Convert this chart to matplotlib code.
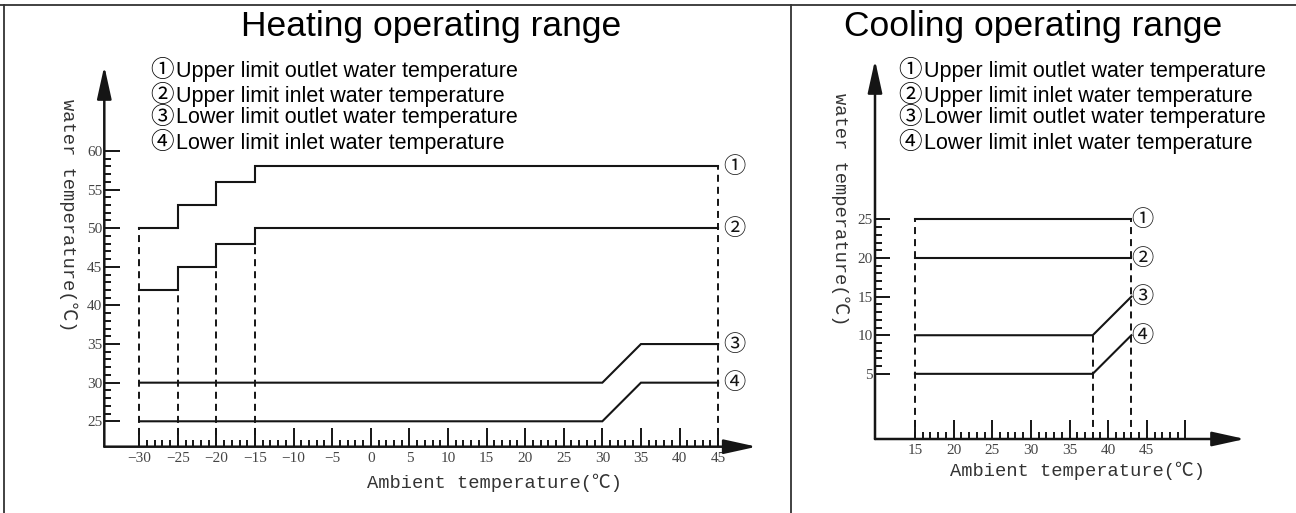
import matplotlib.pyplot as plt
from matplotlib.lines import Line2D

W, H = 1296, 513

# heating operating range
heat_step_x = [-30, -25, -20, -15, 45]
heat_upper_outlet = [50, 53, 56, 58, 58]
heat_upper_inlet = [42, 45, 48, 50, 50]
heat_lower_x = [-30, 30, 35, 45]
heat_lower_outlet = [30, 30, 35, 35]
heat_lower_inlet = [25, 25, 30, 30]
heat_guide_x = [-30, -25, -20, -15, 45]
heat_guide_top = [50, 42, 45, 48, 58]
heat_xticks = list(range(-30, 50, 5))
heat_yticks = list(range(25, 65, 5))

# cooling operating range
cool_upper_x = [15, 43]
cool_upper_outlet = [25, 25]
cool_upper_inlet = [20, 20]
cool_lower_x = [15, 38, 43]
cool_lower_outlet = [10, 10, 15]
cool_lower_inlet = [5, 5, 10]
cool_guide_x = [15, 38, 43]
cool_guide_top = [25, 10, 25]
cool_xticks = list(range(15, 55, 5))
cool_xlabels = ['15', '20', '25', '30', '35', '40', '45', '']
cool_yticks = list(range(5, 30, 5))

legend_marks = ['①', '②', '③', '④']
legend_texts = ['Upper limit outlet water temperature',
                'Upper limit inlet water temperature',
                'Lower limit outlet water temperature',
                'Lower limit inlet water temperature']

INK = '#151515'
SANS = ['Liberation Sans', 'Noto Sans CJK SC', 'DejaVu Sans']
MONO = ['Liberation Mono', 'Noto Sans CJK SC', 'DejaVu Sans']
CJK = ['Noto Sans CJK SC', 'DejaVu Sans']


def fx(x):
    return x / W


def fy(y):
    return 1 - y / H


fig = plt.figure(figsize=(W / 100, H / 100), dpi=100)

# frame lines of the drawing
for xs, ys in [([0, W], [5, 5]), ([4, 4], [5, H]), ([791, 791], [5, H])]:
    fig.add_artist(Line2D([fx(v) for v in xs], [fy(v) for v in ys],
                          color='#333333', lw=1.3))


def make_panel(box, xlim, ylim, xticks, xlabels, ylim_ticks, yticks,
               xmaj_len, ymaj_len):
    l, r, b, t = box
    ax = fig.add_axes([fx(l), fy(b), fx(r) - fx(l), fy(t) - fy(b)])
    ax.set_xlim(xlim)
    ax.set_ylim(ylim)
    for s in ax.spines.values():
        s.set_visible(False)
    ax.set_xticks(xticks)
    ax.set_xticklabels(xlabels)
    ax.set_xticks(range(xticks[0], xticks[-1] + 1), minor=True)
    ax.set_yticks(yticks)
    ax.set_yticklabels([str(v) for v in yticks])
    ax.set_yticks(range(ylim_ticks[0], ylim_ticks[1] + 1), minor=True)
    ax.tick_params(axis='x', which='major', direction='in', length=xmaj_len,
                   width=1.4, pad=3.5, color=INK)
    ax.tick_params(axis='x', which='minor', direction='in', length=4.8,
                   width=1.4, color=INK)
    ax.tick_params(axis='y', which='major', direction='in', length=ymaj_len,
                   width=1.4, pad=1.5, color=INK)
    ax.tick_params(axis='y', which='minor', direction='in', length=5.2,
                   width=1.4, color=INK)
    for lab in ax.get_xticklabels() + ax.get_yticklabels():
        lab.set_family('Liberation Serif')
        lab.set_fontsize(11)
        lab.set_color('#444444')
    ax.patch.set_alpha(0)
    # axes with arrows
    arrow = dict(arrowstyle='-|>,head_length=1.0,head_width=0.22',
                 mutation_scale=20, lw=1.8, color=INK, shrinkA=0, shrinkB=0)
    ax.annotate('', xy=(1, 0), xytext=(0, 0), xycoords='axes fraction',
                arrowprops=arrow, annotation_clip=False)
    ax.annotate('', xy=(0, 1), xytext=(0, 0), xycoords='axes fraction',
                arrowprops=arrow, annotation_clip=False)
    return ax


def end_marks(ax, xs, ys, dx):
    for m, x, y in zip(legend_marks, xs, ys):
        ax.annotate(m, xy=(x, y), xytext=(dx, 0), textcoords='offset points',
                    ha='left', va='center', fontsize=16, family=CJK,
                    color=INK)


line_kw = dict(color=INK, lw=1.5, clip_on=False, solid_joinstyle='miter')
dash_kw = dict(color=INK, lw=1.4, linestyles=(0, (3.6, 2.6)))

# ---------------- heating ----------------
hx = make_panel((104.3, 756.7, 446.7, 66), (-34.53, 50.0), (21.71, 71.0),
                heat_xticks, [str(v).replace('-', '−') for v in heat_xticks],
                (25, 60), heat_yticks, 13.5, 11.5)
hx.step(heat_step_x, heat_upper_outlet, where='post', **line_kw)
hx.step(heat_step_x, heat_upper_inlet, where='post', **line_kw)
hx.plot(heat_lower_x, heat_lower_outlet, **line_kw)
hx.plot(heat_lower_x, heat_lower_inlet, **line_kw)
hx.vlines(heat_guide_x, hx.get_ylim()[0], heat_guide_top, **dash_kw)
end_marks(hx, [45] * 4, [heat_upper_outlet[-1], heat_upper_inlet[-1],
                         heat_lower_outlet[-1], heat_lower_inlet[-1]], 4)

# ---------------- cooling ----------------
cx = make_panel((875, 1245, 439, 60), (9.83, 57.7), (-3.44, 45.65),
                cool_xticks, cool_xlabels, (5, 25), cool_yticks, 14, 10.8)
cx.plot(cool_upper_x, cool_upper_outlet, **line_kw)
cx.plot(cool_upper_x, cool_upper_inlet, **line_kw)
cx.plot(cool_lower_x, cool_lower_outlet, **line_kw)
cx.plot(cool_lower_x, cool_lower_inlet, **line_kw)
cx.vlines(cool_guide_x, cx.get_ylim()[0], cool_guide_top, **dash_kw)
end_marks(cx, [43] * 4, [cool_upper_outlet[-1], cool_upper_inlet[-1],
                         cool_lower_outlet[-1], cool_lower_inlet[-1]], 0)

# titles, legends, axis labels
for cx_px, title in [(431, 'Heating operating range'),
                     (1033, 'Cooling operating range')]:
    fig.text(fx(cx_px), fy(36), title, ha='center', va='baseline',
             fontsize=25.5, family=SANS, color='black')

baselines = [77, 102, 123.5, 148.5]
for left in (152, 900):
    for m, t, yb in zip(legend_marks, legend_texts, baselines):
        fig.text(fx(left - 2), fy(yb - 6), m, ha='left', va='center',
                 fontsize=17, family=CJK, color='black')
        fig.text(fx(left + 24), fy(yb), t, ha='left', va='baseline',
                 fontsize=15.5, family=SANS, color='black')

for x, y in [(68, 215), (840, 209)]:
    fig.text(fx(x), fy(y), 'water temperature(℃)', rotation=270,
             ha='center', va='center', fontsize=13.5, family=MONO,
             color='#333333')
for x, y in [(495, 483), (1077, 471)]:
    fig.text(fx(x), fy(y), 'Ambient temperature(℃)', ha='center',
             va='center', fontsize=13.5, family=MONO, color='#333333')

fig.savefig('out.png', dpi=100)
